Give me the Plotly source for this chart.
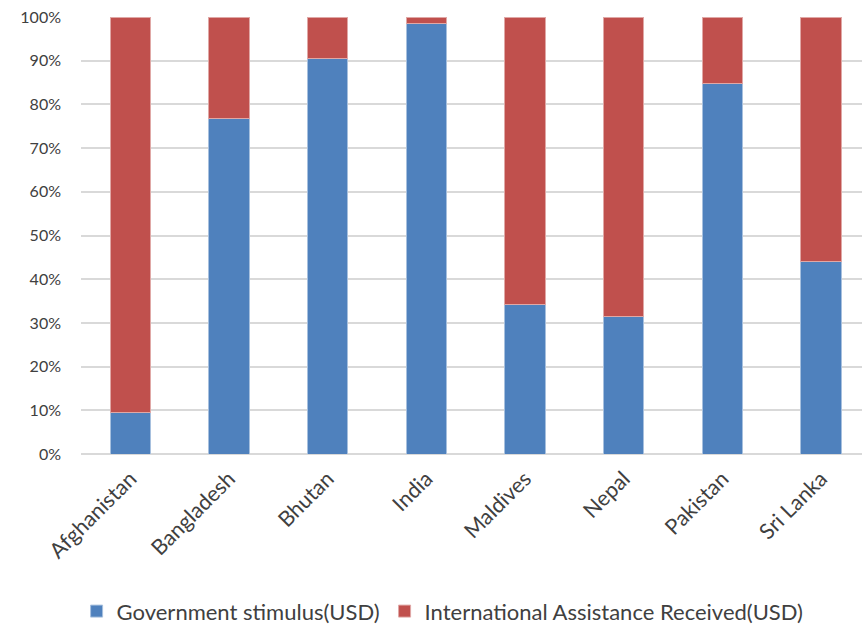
import plotly.graph_objects as go

countries = ["Afghanistan", "Bangladesh", "Bhutan", "India", "Maldives", "Nepal", "Pakistan", "Sri Lanka"]
gov_stimulus = [0.094, 0.767, 0.905, 0.985, 0.343, 0.314, 0.848, 0.440]
intl_assistance = [round(1 - v, 3) for v in gov_stimulus]

font_family = "Lato, 'Open Sans', sans-serif"

fig = go.Figure()
fig.add_trace(go.Bar(
    x=countries, y=gov_stimulus, name="Government stimulus(USD)",
    marker=dict(color="#4F81BD", line=dict(color="#A7C0DE", width=1)),
    width=0.41,
))
fig.add_trace(go.Bar(
    x=countries, y=intl_assistance, name="International Assistance Received(USD)",
    marker=dict(color="#C0504D", line=dict(color="#E0A8A6", width=1)),
    width=0.41,
))

fig.update_layout(
    barmode="stack",
    width=862, height=624,
    margin=dict(l=81, r=0, t=17, b=170, autoexpand=False),
    paper_bgcolor="white", plot_bgcolor="white",
    font=dict(family=font_family, size=17, color="#404040"),
    showlegend=True,
    legend=dict(orientation="h", x=0.463, xanchor="center", y=-0.36, yanchor="middle",
                font=dict(size=22, color="#404040"), traceorder="normal",
                itemwidth=30),
)
fig.update_xaxes(
    range=[-0.5, 7.415], tickangle=-45, showgrid=False, showline=False,
    ticks="", tickfont=dict(size=21.5, color="#404040"), automargin=False,
    ticklabelstandoff=7,
)
fig.update_yaxes(
    range=[0, 1], tickvals=[i / 10 for i in range(11)], tickformat=".0%",
    showgrid=True, gridcolor="#D9D9D9", gridwidth=2, zeroline=True,
    zerolinecolor="#D9D9D9", zerolinewidth=2, showline=False,
    ticks="", ticklabelstandoff=19, tickfont=dict(size=16, color="#404040"),
    automargin=False, ticklabeloverflow="allow",
)

fig.write_html("out.html", config={"displayModeBar": False},
               post_script="document.body.style.margin='0px';")
